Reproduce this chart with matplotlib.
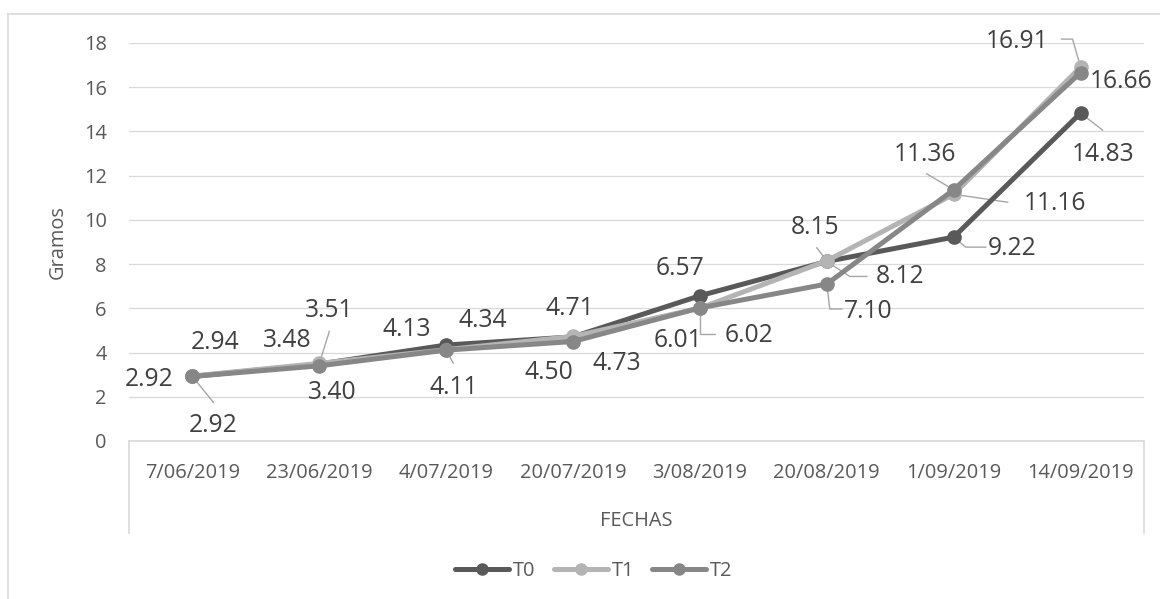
import matplotlib
matplotlib.use("Agg")
import matplotlib.pyplot as plt
from matplotlib.lines import Line2D

plt.rcParams['font.family'] = ['Open Sans', 'DejaVu Sans']

fechas = ['7/06/2019', '23/06/2019', '4/07/2019', '20/07/2019',
          '3/08/2019', '20/08/2019', '1/09/2019', '14/09/2019']
t0 = [2.92, 3.48, 4.34, 4.71, 6.57, 8.12, 9.22, 14.83]
t1 = [2.94, 3.51, 4.13, 4.73, 6.01, 8.15, 11.16, 16.91]
t2 = [2.92, 3.40, 4.11, 4.50, 6.02, 7.10, 11.36, 16.66]

# label offsets from the point, in pixels (x right, y up)
off_t0 = [(-43, -3), (-32, 24), (37, 25), (-3, 28), (-20, 27), (73, -15), (58, -11), (23, -41)]
off_t1 = [(23, 33), (10, 53), (-39, 20), (44, -27), (-22, -32), (-12, 33), (101, -9), (-63, 26)]
off_t2 = [(21, -49), (13, -27), (8, -37), (-24, -31), (49, -28), (41, -27), (-29, 35), (41, -9)]

# leader lines (series, point index, vertices in pixel offsets)
leaders = [
    (0, 5, [(0, 0), (23, -15), (40, -15)]),
    (0, 6, [(0, 0), (12, -10), (32, -10)]),
    (0, 7, [(0, 0), (22, -17)]),
    (1, 1, [(0, 0), (10, 32)]),
    (1, 5, [(0, 0), (-10, 13)]),
    (1, 6, [(0, 0), (54, -8)]),
    (1, 7, [(0, 0), (-8, 28), (-19, 28)]),
    (2, 0, [(0, 0), (21, -26)]),
    (2, 2, [(0, 0), (7, -13)]),
    (2, 4, [(0, 0), (0, -26), (15, -26)]),
    (2, 5, [(0, 0), (3, -25), (15, -25)]),
    (2, 6, [(0, 0), (-27, 16)]),
]

series = [('T0', t0, '#595959', off_t0),
          ('T1', t1, '#b4b4b4', off_t1),
          ('T2', t2, '#878787', off_t2)]

W, H = 1160, 599
fig = plt.figure(figsize=(W / 100, H / 100), dpi=100)
ax = fig.add_axes([129 / W, 1 - 441 / H, (1144 - 129) / W, (441 - 43) / H])

x = list(range(len(fechas)))
for name, vals, col, _ in series:
    ax.plot(x, vals, color=col, lw=3.6, marker='o', ms=9.5, label=name,
            solid_capstyle='round', clip_on=False)

ax.set_xlim(-0.5, len(fechas) - 0.5)
ax.set_ylim(0, 18)
ax.set_yticks(range(0, 19, 2))
ax.set_xticks(x)
ax.set_xticklabels(fechas)
ax.tick_params(axis='both', length=0, labelsize=14.4, labelcolor='#595959')
ax.tick_params(axis='y', pad=16)
ax.tick_params(axis='x', pad=16)
ax.grid(axis='y', color='#d9d9d9', lw=0.9)
ax.set_axisbelow(True)
for s in ['top', 'right', 'left']:
    ax.spines[s].set_visible(False)
ax.spines['bottom'].set_color('#d9d9d9')
ax.spines['bottom'].set_linewidth(1.2)

# category box lines under the axis
for xx in (0, 1):
    ax.add_line(Line2D([xx, xx], [0, -0.231], transform=ax.transAxes,
                       color='#d9d9d9', lw=1.2, clip_on=False))

# data labels
for name, vals, col, offs in series:
    for i, v in enumerate(vals):
        ax.annotate(f'{v:.2f}', xy=(i, v), xytext=offs[i], textcoords='offset pixels',
                    ha='center', va='center', fontsize=17.7, color='#404040')

fig.canvas.draw()
inv = ax.transData.inverted()
for si, i, verts in leaders:
    vals = series[si][1]
    px, py = ax.transData.transform((i, vals[i]))
    pts = [inv.transform((px + dx, py + dy)) for dx, dy in verts]
    ax.plot([p[0] for p in pts], [p[1] for p in pts], color='#a6a6a6', lw=1.0,
            clip_on=False, zorder=1.5)

fig.text(58 / W, 1 - 242 / H, 'Gramos', rotation=90, ha='center', va='center',
         fontsize=14.4, color='#595959')
fig.text(636 / W, 1 - 521 / H, 'FECHAS', ha='center', va='center',
         fontsize=14.4, color='#595959')

handles = [Line2D([], [], color=c, lw=3.6, marker='o', ms=8, solid_capstyle='round')
           for _, _, c, _ in series]
fig.legend(handles, [s[0] for s in series], loc='center', ncol=3,
           bbox_to_anchor=(594 / W, 1 - 571 / H), frameon=False, fontsize=14.4,
           labelcolor='#595959', handlelength=2.7, handletextpad=0.2, columnspacing=0.9)

# chart frame (left and top edges visible)
fig.add_artist(Line2D([8 / W, 8 / W], [0, 1 - 14 / H], transform=fig.transFigure,
                      color='#d9d9d9', lw=1.2))
fig.add_artist(Line2D([8 / W, 1], [1 - 14 / H, 1 - 14 / H], transform=fig.transFigure,
                      color='#d9d9d9', lw=1.2))

fig.savefig('out.png', dpi=100, facecolor='white')
